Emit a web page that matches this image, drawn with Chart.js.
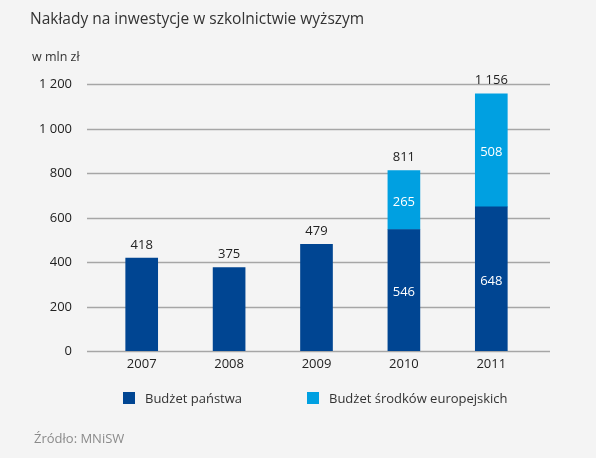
<!DOCTYPE html>
<html lang="pl">
<head>
<meta charset="utf-8">
<script src="https://cdn.jsdelivr.net/npm/chart.js@4/dist/chart.umd.min.js"></script>
<style>
  html, body { margin: 0; padding: 0; }
  body { width: 596px; height: 458px; background: #f4f4f4; position: relative; overflow: hidden;
         font-family: "Open Sans", sans-serif; color: #333; }
  #wrap { position: absolute; left: 0; top: 0; width: 596px; height: 458px; }
  .title { position: absolute; left: 30px; top: 7px; font-size: 15.5px; color: #333; }
  .unit { position: absolute; left: 32px; top: 48px; font-size: 12.5px; color: #333; }
  .source { position: absolute; left: 34px; top: 429px; font-size: 13px; color: #8a8a8a; }
  #legend { position: absolute; left: 123px; top: 389px; display: flex; font-size: 13px; color: #333; white-space: nowrap; }
  #legend .item { display: flex; align-items: center; width: 184px; }
  #legend .item:last-child { width: auto; }
  #legend .box { width: 12px; height: 12px; margin-right: 10px; flex: none; }
</style>
</head>
<body>
<div id="wrap"><canvas id="wykres" width="596" height="458"></canvas></div>
<div class="title">Nakłady na inwestycje w szkolnictwie wyższym</div>
<div class="unit">w mln zł</div>
<div id="legend"></div>
<div class="source">Źródło: MNiSW</div>
<script>
const lata = ["2007", "2008", "2009", "2010", "2011"];
const budzetPanstwa = [418, 375, 479, 546, 648];
const srodkiUE = [null, null, null, 265, 508];
const nazwySerii = ["Budżet państwa", "Budżet środków europejskich"];
const kolory = ["#004592", "#00a0e1"];
const osY = [0, 200, 400, 600, 800, 1000, 1200];

function formatuj(v) {
  return String(v).replace(/\B(?=(\d{3})+(?!\d))/g, " ");
}

// legenda w html
const legenda = document.getElementById("legend");
nazwySerii.forEach((nazwa, i) => {
  legenda.innerHTML += `<div class="item"><span class="box" style="background:${kolory[i]}"></span>${nazwa}</div>`;
});

// linie siatki szersze niz obszar wykresu + opisy osi
const siatka = {
  id: "siatka",
  beforeDatasetsDraw(chart) {
    const ctx = chart.ctx;
    const y = chart.scales.y;
    const x = chart.scales.x;
    ctx.save();
    ctx.strokeStyle = "#a6a6a6";
    ctx.lineWidth = 1.3;
    ctx.font = "13px 'Open Sans'";
    ctx.fillStyle = "#222";
    ctx.textAlign = "right";
    ctx.textBaseline = "middle";
    osY.forEach((v) => {
      const py = Math.round(y.getPixelForValue(v)) + 0.5;
      ctx.beginPath();
      ctx.moveTo(87, py);
      ctx.lineTo(550, py);
      ctx.stroke();
      ctx.fillText(formatuj(v), 72, py);
    });
    ctx.textAlign = "center";
    const dol = y.getPixelForValue(0);
    lata.forEach((rok, i) => {
      ctx.fillText(rok, x.getPixelForValue(i), dol + 13);
    });
    ctx.restore();
  }
};

// etykiety wartosci
const etykiety = {
  id: "etykiety",
  afterDatasetsDraw(chart) {
    const ctx = chart.ctx;
    ctx.save();
    ctx.font = "13px 'Open Sans'";
    ctx.textAlign = "center";
    ctx.textBaseline = "middle";
    lata.forEach((rok, i) => {
      let suma = 0;
      let gora = null;
      let ileSegm = 0;
      chart.data.datasets.forEach((ds, d) => {
        const v = ds.data[i];
        if (v == null) return;
        ileSegm++;
        suma += v;
        gora = chart.getDatasetMeta(d).data[i];
      });
      chart.data.datasets.forEach((ds, d) => {
        const v = ds.data[i];
        if (v == null || ileSegm < 2) return;
        const el = chart.getDatasetMeta(d).data[i];
        ctx.fillStyle = "#ffffff";
        ctx.fillText(formatuj(v), el.x, (el.y + el.base) / 2 + 2);
      });
      if (gora) {
        ctx.fillStyle = "#222";
        ctx.fillText(formatuj(suma), gora.x, gora.y - 13);
      }
    });
    ctx.restore();
  }
};

new Chart(document.getElementById("wykres"), {
  type: "bar",
  data: {
    labels: lata,
    datasets: [
      { label: nazwySerii[0], data: budzetPanstwa, backgroundColor: kolory[0] },
      { label: nazwySerii[1], data: srodkiUE, backgroundColor: kolory[1] }
    ]
  },
  options: {
    responsive: false,
    animation: false,
    layout: { padding: { left: 0, right: 61, top: 84, bottom: 0 } },
    datasets: { bar: { barThickness: 32 } },
    plugins: { legend: { display: false }, tooltip: { enabled: false } },
    scales: {
      x: {
        stacked: true,
        grid: { display: false },
        border: { display: false },
        ticks: { display: false },
        afterFit(scale) { scale.height = 107; }
      },
      y: {
        stacked: true,
        min: 0,
        max: 1200,
        afterBuildTicks(scale) { scale.ticks = osY.map((v) => ({ value: v })); },
        grid: { display: false },
        border: { display: false },
        ticks: { display: false },
        afterFit(scale) { scale.width = 98; }
      }
    }
  },
  plugins: [siatka, etykiety]
});
</script>
</body>
</html>
